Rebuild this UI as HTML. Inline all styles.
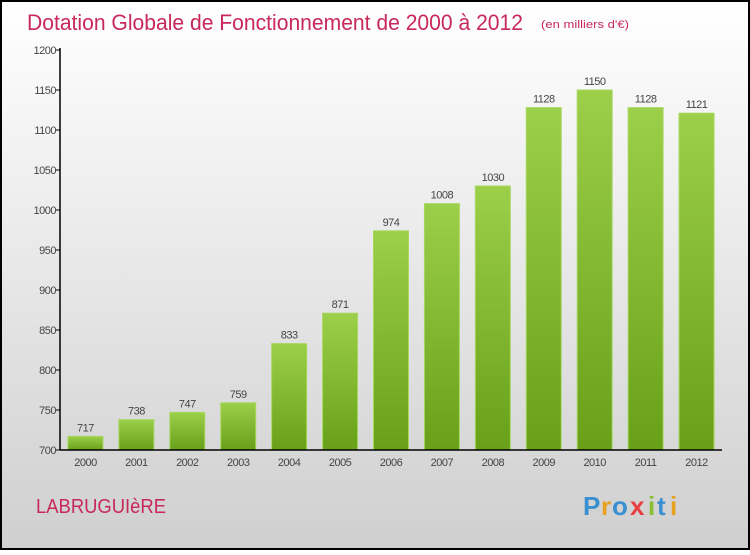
<!DOCTYPE html>
<html><head><meta charset="utf-8"><style>
html,body{margin:0;padding:0}
body{width:750px;height:550px;overflow:hidden;font-family:"Liberation Sans",sans-serif}
</style></head><body>
<svg width="750" height="550" xmlns="http://www.w3.org/2000/svg">
<defs>
<linearGradient id="bg" x1="0" y1="0" x2="0" y2="1"><stop offset="0" stop-color="#ffffff"/><stop offset="1" stop-color="#cfcfcf"/></linearGradient>
<linearGradient id="bar" x1="0" y1="0" x2="0" y2="1"><stop offset="0" stop-color="#9ccf4a"/><stop offset="1" stop-color="#68a019"/></linearGradient>
</defs>
<rect x="1" y="1" width="748" height="548" fill="url(#bg)" stroke="#000" stroke-width="2"/>
<text x="27" y="30" font-size="22" fill="#c8285a" textLength="496" lengthAdjust="spacingAndGlyphs">Dotation Globale de Fonctionnement de 2000 à 2012</text>
<text x="541" y="28" font-size="11" fill="#c8285a" textLength="88" lengthAdjust="spacingAndGlyphs">(en milliers d'€)</text>
<g id="plot"></g>
<text x="36" y="513" font-size="20" fill="#c8285a" textLength="130" lengthAdjust="spacingAndGlyphs">LABRUGUIèRE</text>
<g font-size="26" font-weight="bold">
<text x="583" y="515" fill="#3a8fd0">P</text><text x="601" y="515" fill="#e8a020">r</text><text x="612" y="515" fill="#3a8fd0">o</text><text x="630" y="515" fill="#e84040">x</text><text x="648" y="515" fill="#88c030">i</text><text x="657" y="515" fill="#3a8fd0">t</text><text x="670" y="515" fill="#e8a020">i</text>
</g>
</svg>
<script>
const categories=["2000","2001","2002","2003","2004","2005","2006","2007","2008","2009","2010","2011","2012"];
const values=[717,738,747,759,833,871,974,1008,1030,1128,1150,1128,1121];
const ticks=[700,750,800,850,900,950,1000,1050,1100,1150,1200];
const NS="http://www.w3.org/2000/svg";
const g=document.getElementById('plot');
const x0=60,x1=722,y0=450,y1=50,vmin=700,vmax=1200;
const step=(x1-x0)/categories.length;
const bw=35;
function y(v){return y0-(v-vmin)/(vmax-vmin)*(y0-y1);}
function xc(i){return x0+step*(i+0.5);}
function mk(t,a,txt){const e=document.createElementNS(NS,t);for(const k in a)e.setAttribute(k,a[k]);if(txt!==undefined)e.textContent=txt;g.appendChild(e);return e;}
ticks.forEach(t=>{
  const l=mk('line',{x1:x0-4,x2:x0,y1:y(t),y2:y(t),stroke:'#000'});
  
  
  const tx=mk('text',{x:x0-4,y:y(t)+4,'font-size':11,fill:'#444','text-anchor':'end','letter-spacing':'-0.5'},t);
  
  
});
categories.forEach((c,i)=>{
  const r=mk('rect',{x:xc(i)-bw/2,y:y(values[i]),width:bw,height:y0-y(values[i]),fill:'url(#bar)',stroke:'#a8d860','stroke-width':1});
  
  
  const v=mk('text',{x:xc(i),y:y(values[i])-5,'font-size':11,fill:'#444','text-anchor':'middle','letter-spacing':'-0.5'},values[i]);
  
  
  const l=mk('text',{x:xc(i),y:y0+16,'font-size':11,fill:'#444','text-anchor':'middle','letter-spacing':'-0.5'},c);
  
  
});
const ya=mk('line',{x1:x0,x2:x0,y1:y1-2,y2:y0,stroke:'#000','stroke-width':1.5});


const xa=mk('line',{x1:x0,x2:x1,y1:y0,y2:y0,stroke:'#000','stroke-width':1.5});


</script>
</body></html>
